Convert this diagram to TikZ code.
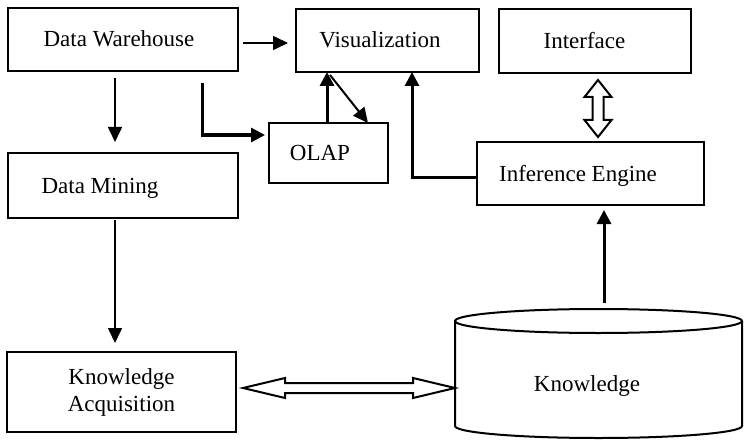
\documentclass[tikz,border=0pt]{standalone}
\usepackage{fontspec}
\setmainfont{Liberation Serif}
\usetikzlibrary{arrows.meta,calc}
\begin{document}
\begin{tikzpicture}[x=1pt,y=1pt,
  box/.style={draw,line width=2pt,inner sep=0pt,outer sep=0pt,
    font=\fontsize{23}{27}\selectfont,text height=15pt,text depth=0pt},
  frame/.style={inner sep=0pt,outer sep=0pt},
  lbl/.style={font=\fontsize{23}{27}\selectfont,inner sep=0pt},
  thinarr/.style={line width=1.6pt,-{Triangle[length=15pt,width=14pt]}},
  thickarr/.style={line width=3pt,-{Triangle[length=14pt,width=14pt]}},
  hollow/.style={draw,line width=2pt,fill=white,line join=miter},
  cyl/.style={line width=2pt}]
\useasboundingbox (0,0) rectangle (744,440);

% boxes
\node[box,minimum width=230pt,minimum height=63pt] (dw) at (123,400.5) {\hspace*{-8pt}Data Warehouse};
\node[box,minimum width=230pt,minimum height=65pt] (dm) at (123,254.5) {\hspace*{-46pt}Data Mining};
\node[draw,line width=2pt,inner sep=0pt,outer sep=0pt,align=center,
  font=\fontsize{23}{27}\selectfont,minimum width=229pt,minimum height=80pt] (ka) at (121.5,48) {Knowledge\\Acquisition};
\node[box,minimum width=183pt,minimum height=63pt] (vis) at (387.5,399.5) {\hspace*{-15pt}Visualization};
\node[box,minimum width=119pt,minimum height=60pt] (olap) at (328.5,287) {\hspace*{-17pt}OLAP};
\node[box,minimum width=192pt,minimum height=64pt] (intf) at (595,399) {\hspace*{-21pt}Interface};
\node[box,minimum width=227pt,minimum height=63pt] (ie) at (590.5,266.5) {\hspace*{-25pt}Inference Engine};

% knowledge cylinder
\node[frame,minimum width=287pt,minimum height=129pt] (kb) at (598.5,66.5) {};
\draw[cyl] (598.5,119) ellipse [x radius=143.5pt, y radius=12pt];
\draw[cyl] (455,119) -- (455,14) arc[start angle=180,end angle=360,x radius=143.5pt,y radius=12pt] -- (742,119);
\node[lbl,anchor=base] (kbl) at (587,49) {Knowledge};

% connectors
\draw[thinarr,shorten <=7pt,shorten >=11pt] ([xshift=-8pt]dw.south) -- ([xshift=-8pt]dm.north);
\draw[thinarr,shorten <=2pt,shorten >=9pt] ([xshift=-8pt]dm.south) -- ([xshift=-6.5pt]ka.north);
\draw[thinarr,shorten <=5pt,shorten >=8pt] ([yshift=-3.5pt]dw.east) -- ([yshift=-3.5pt]dw.east -| vis.west);
\draw[thickarr,shorten <=12pt,shorten >=4pt] ([xshift=79pt]dw.south) |- ([yshift=18pt]olap.west);
\draw[thickarr] ([xshift=-1.5pt]olap.north) -- ([xshift=-1.5pt]olap.north |- vis.south);
\draw[thinarr,line width=2pt] ([xshift=-57.5pt,yshift=-3pt]vis.south) -- ([xshift=39.5pt]olap.north);
\draw[thickarr] ([yshift=-3.5pt]ie.west) -| ([xshift=24.5pt]vis.south);
\draw[thickarr,shorten >=5pt] ([xshift=5.5pt,yshift=6pt]kb.north) -- ([xshift=13.5pt]ie.south);

% hollow double arrows
\coordinate (d1) at ([xshift=3pt,yshift=-7pt]intf.south);
\coordinate (d2) at ([xshift=7.5pt,yshift=5pt]ie.north);
\draw[hollow] (d1) -- ($(d1)+(13.5,-17)$) -- ($(d1)+(5.5,-17)$) -- ($(d2)+(5.5,17)$) -- ($(d2)+(13.5,17)$)
  -- (d2) -- ($(d2)+(-13.5,17)$) -- ($(d2)+(-5.5,17)$) -- ($(d1)+(-5.5,-17)$) -- ($(d1)+(-13.5,-17)$) -- cycle;
\coordinate (h1) at ([xshift=7pt,yshift=4pt]ka.east);
\coordinate (h2) at ([yshift=-14.5pt]kb.west);
\draw[hollow] (h1) -- ($(h1)+(42,10)$) -- ($(h1)+(42,5)$) -- ($(h2)+(-42,5)$) -- ($(h2)+(-42,10)$)
  -- (h2) -- ($(h2)+(-42,-10)$) -- ($(h2)+(-42,-5)$) -- ($(h1)+(42,-5)$) -- ($(h1)+(42,-10)$) -- cycle;
\end{tikzpicture}
\end{document}
